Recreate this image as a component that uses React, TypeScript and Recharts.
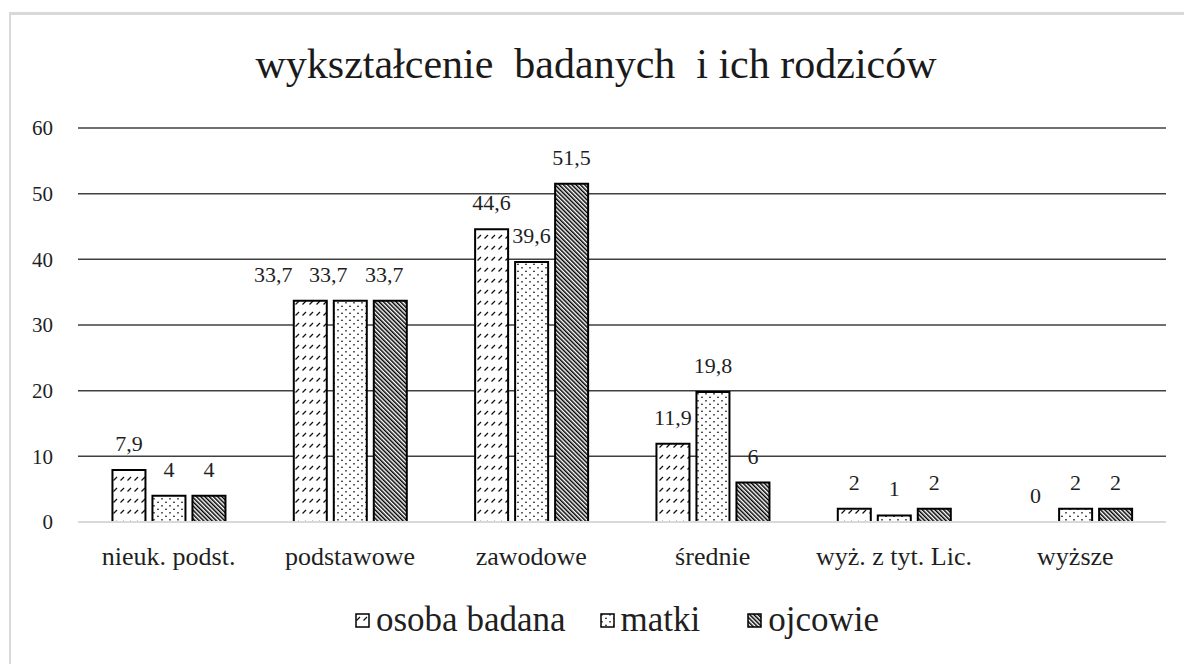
import React from "react";
import { Bar, BarChart, CartesianGrid, LabelList, Legend, Rectangle, XAxis, YAxis } from "recharts";

const categories = ["nieuk. podst.", "podstawowe", "zawodowe", "średnie", "wyż. z tyt. Lic.", "wyższe"];
const osobaBadana = [7.9, 33.7, 44.6, 11.9, 2, 0];
const matki = [4, 33.7, 39.6, 19.8, 1, 2];
const ojcowie = [4, 33.7, 51.5, 6, 2, 2];
const yTicks = [0, 10, 20, 30, 40, 50, 60];
const seriesOrder = ["osoba", "matki", "ojcowie"];

// labels that were pushed sideways in the original so they don't collide
const labelNudge: Record<string, Record<string, number>> = {
  podstawowe: { osoba: -37, matki: -22, ojcowie: -6 },
};

const data = categories.map((name, i) => ({
  name,
  osoba: osobaBadana[i],
  matki: matki[i],
  ojcowie: ojcowie[i],
}));

const FONT = "Liberation Serif, Tinos, Times New Roman, DejaVu Serif, serif";

const patternFor: Record<string, string> = {
  osoba: "url(#pOsoba)",
  matki: "url(#pMatki)",
  ojcowie: "url(#pOjcowie)",
};

function Patterns() {
  return (
    <svg width={0} height={0} style={{ position: "absolute" }}>
      <defs>
        <pattern id="pOsoba" patternUnits="userSpaceOnUse" width={7} height={11}>
          <rect width={7} height={11} fill="#fff" />
          <line x1={1.5} y1={7.5} x2={5} y2={4} stroke="#111" strokeWidth={1.2} />
        </pattern>
        <pattern id="pMatki" patternUnits="userSpaceOnUse" width={8} height={7}>
          <rect width={8} height={7} fill="#fff" />
          <circle cx={2} cy={1.75} r={0.85} fill="#111" />
          <circle cx={6} cy={5.25} r={0.85} fill="#111" />
        </pattern>
        <pattern id="pOjcowie" patternUnits="userSpaceOnUse" width={3} height={10} patternTransform="rotate(-45)">
          <rect width={3} height={10} fill="#fff" />
          <rect width={1.5} height={10} fill="#000" />
        </pattern>
      </defs>
    </svg>
  );
}

// zero values get a 1px placeholder so their label is kept, but nothing is drawn
function makeShape(key: string) {
  return (props: any) => {
    if (!props.payload || props.payload[key] === 0) return <g />;
    return <Rectangle {...props} />;
  };
}

function makeLabel(key: string) {
  return (props: any) => {
    const { x, y, width, value, index } = props;
    if (value == null || x == null) return null;
    const nudge = (labelNudge[categories[index]] || {})[key] || 0;
    const top = value === 0 ? y + props.height : y;
    return (
      <text
        x={x + width / 2 + nudge}
        y={top - 19}
        textAnchor="middle"
        style={{ fontFamily: FONT }}
        fontSize={22}
        fill="#1f1f1f"
      >
        {String(value).replace(".", ",")}
      </text>
    );
  };
}

function LegendContent(props: any) {
  const items = [...(props.payload || [])].sort(
    (a: any, b: any) => seriesOrder.indexOf(a.dataKey) - seriesOrder.indexOf(b.dataKey)
  );
  const gaps = [34, 47, 0];
  return (
    <div style={{ display: "flex", height: 40, alignItems: "center", paddingLeft: 355 }}>
      {items.map((it: any, i: number) => (
        <div key={it.value} style={{ display: "flex", alignItems: "center", marginRight: gaps[i] }}>
          <svg width={15} height={15} style={{ marginRight: 6 }}>
            <rect x={1} y={1} width={13} height={13} fill={patternFor[it.dataKey]} stroke="#000" strokeWidth={1.5} />
          </svg>
          <span style={{ fontFamily: FONT, fontSize: 35, lineHeight: "40px", color: "#1f1f1f" }}>{it.value}</span>
        </div>
      ))}
    </div>
  );
}

export default function App() {
  const tickStyle = { fontFamily: FONT };
  return (
    <div style={{ position: "absolute", left: 0, top: 0, width: 1184, height: 664, background: "#fff", overflow: "hidden", fontFamily: FONT }}>
      <Patterns />
      <div
        style={{
          position: "absolute",
          left: 9,
          top: 12,
          width: 1400,
          height: 900,
          borderTop: "3px solid #d9d9d9",
          borderLeft: "2px solid #d9d9d9",
        }}
      />
      <div
        style={{
          position: "absolute",
          left: 0,
          top: 43,
          width: 1192,
          textAlign: "center",
          fontFamily: FONT,
          fontSize: 42,
          lineHeight: "42px",
          whiteSpace: "pre",
          color: "#1a1a1a",
        }}
      >
        {"wykształcenie  badanych  i ich rodziców"}
      </div>
      <div style={{ position: "absolute", left: 0, top: 0 }}>
        <BarChart
          width={1184}
          height={664}
          data={data}
          margin={{ top: 128, right: 18, left: 0, bottom: 62 }}
          barCategoryGap="19%"
          barGap={7}
          style={{ fontFamily: FONT }}
        >
          <CartesianGrid vertical={false} stroke="#404040" strokeWidth={1.5} />
          <XAxis
            dataKey="name"
            height={40}
            tickSize={0}
            tickMargin={25}
            tickLine={false}
            axisLine={{ stroke: "#d9d9d9", strokeWidth: 2 }}
            tick={{ fontSize: 26, fill: "#1f1f1f", style: tickStyle }}
          />
          <YAxis
            width={78}
            domain={[0, 60]}
            ticks={yTicks}
            tickSize={0}
            tickMargin={25}
            tickLine={false}
            axisLine={false}
            tick={{ fontSize: 21, fill: "#1f1f1f", style: tickStyle }}
          />
          <Legend
            verticalAlign="bottom"
            content={<LegendContent />}
            wrapperStyle={{ top: 600, left: 0, bottom: "auto", width: 1184 }}
          />
          <Bar
            dataKey="osoba"
            name="osoba badana"
            fill={patternFor.osoba}
            stroke="#000"
            strokeWidth={2}
            minPointSize={1}
            shape={makeShape("osoba")}
            isAnimationActive={false}
          >
            <LabelList dataKey="osoba" content={makeLabel("osoba")} />
          </Bar>
          <Bar dataKey="matki" name="matki" fill={patternFor.matki} stroke="#000" strokeWidth={2} isAnimationActive={false}>
            <LabelList dataKey="matki" content={makeLabel("matki")} />
          </Bar>
          <Bar dataKey="ojcowie" name="ojcowie" fill={patternFor.ojcowie} stroke="#000" strokeWidth={2} isAnimationActive={false}>
            <LabelList dataKey="ojcowie" content={makeLabel("ojcowie")} />
          </Bar>
        </BarChart>
      </div>
    </div>
  );
}
